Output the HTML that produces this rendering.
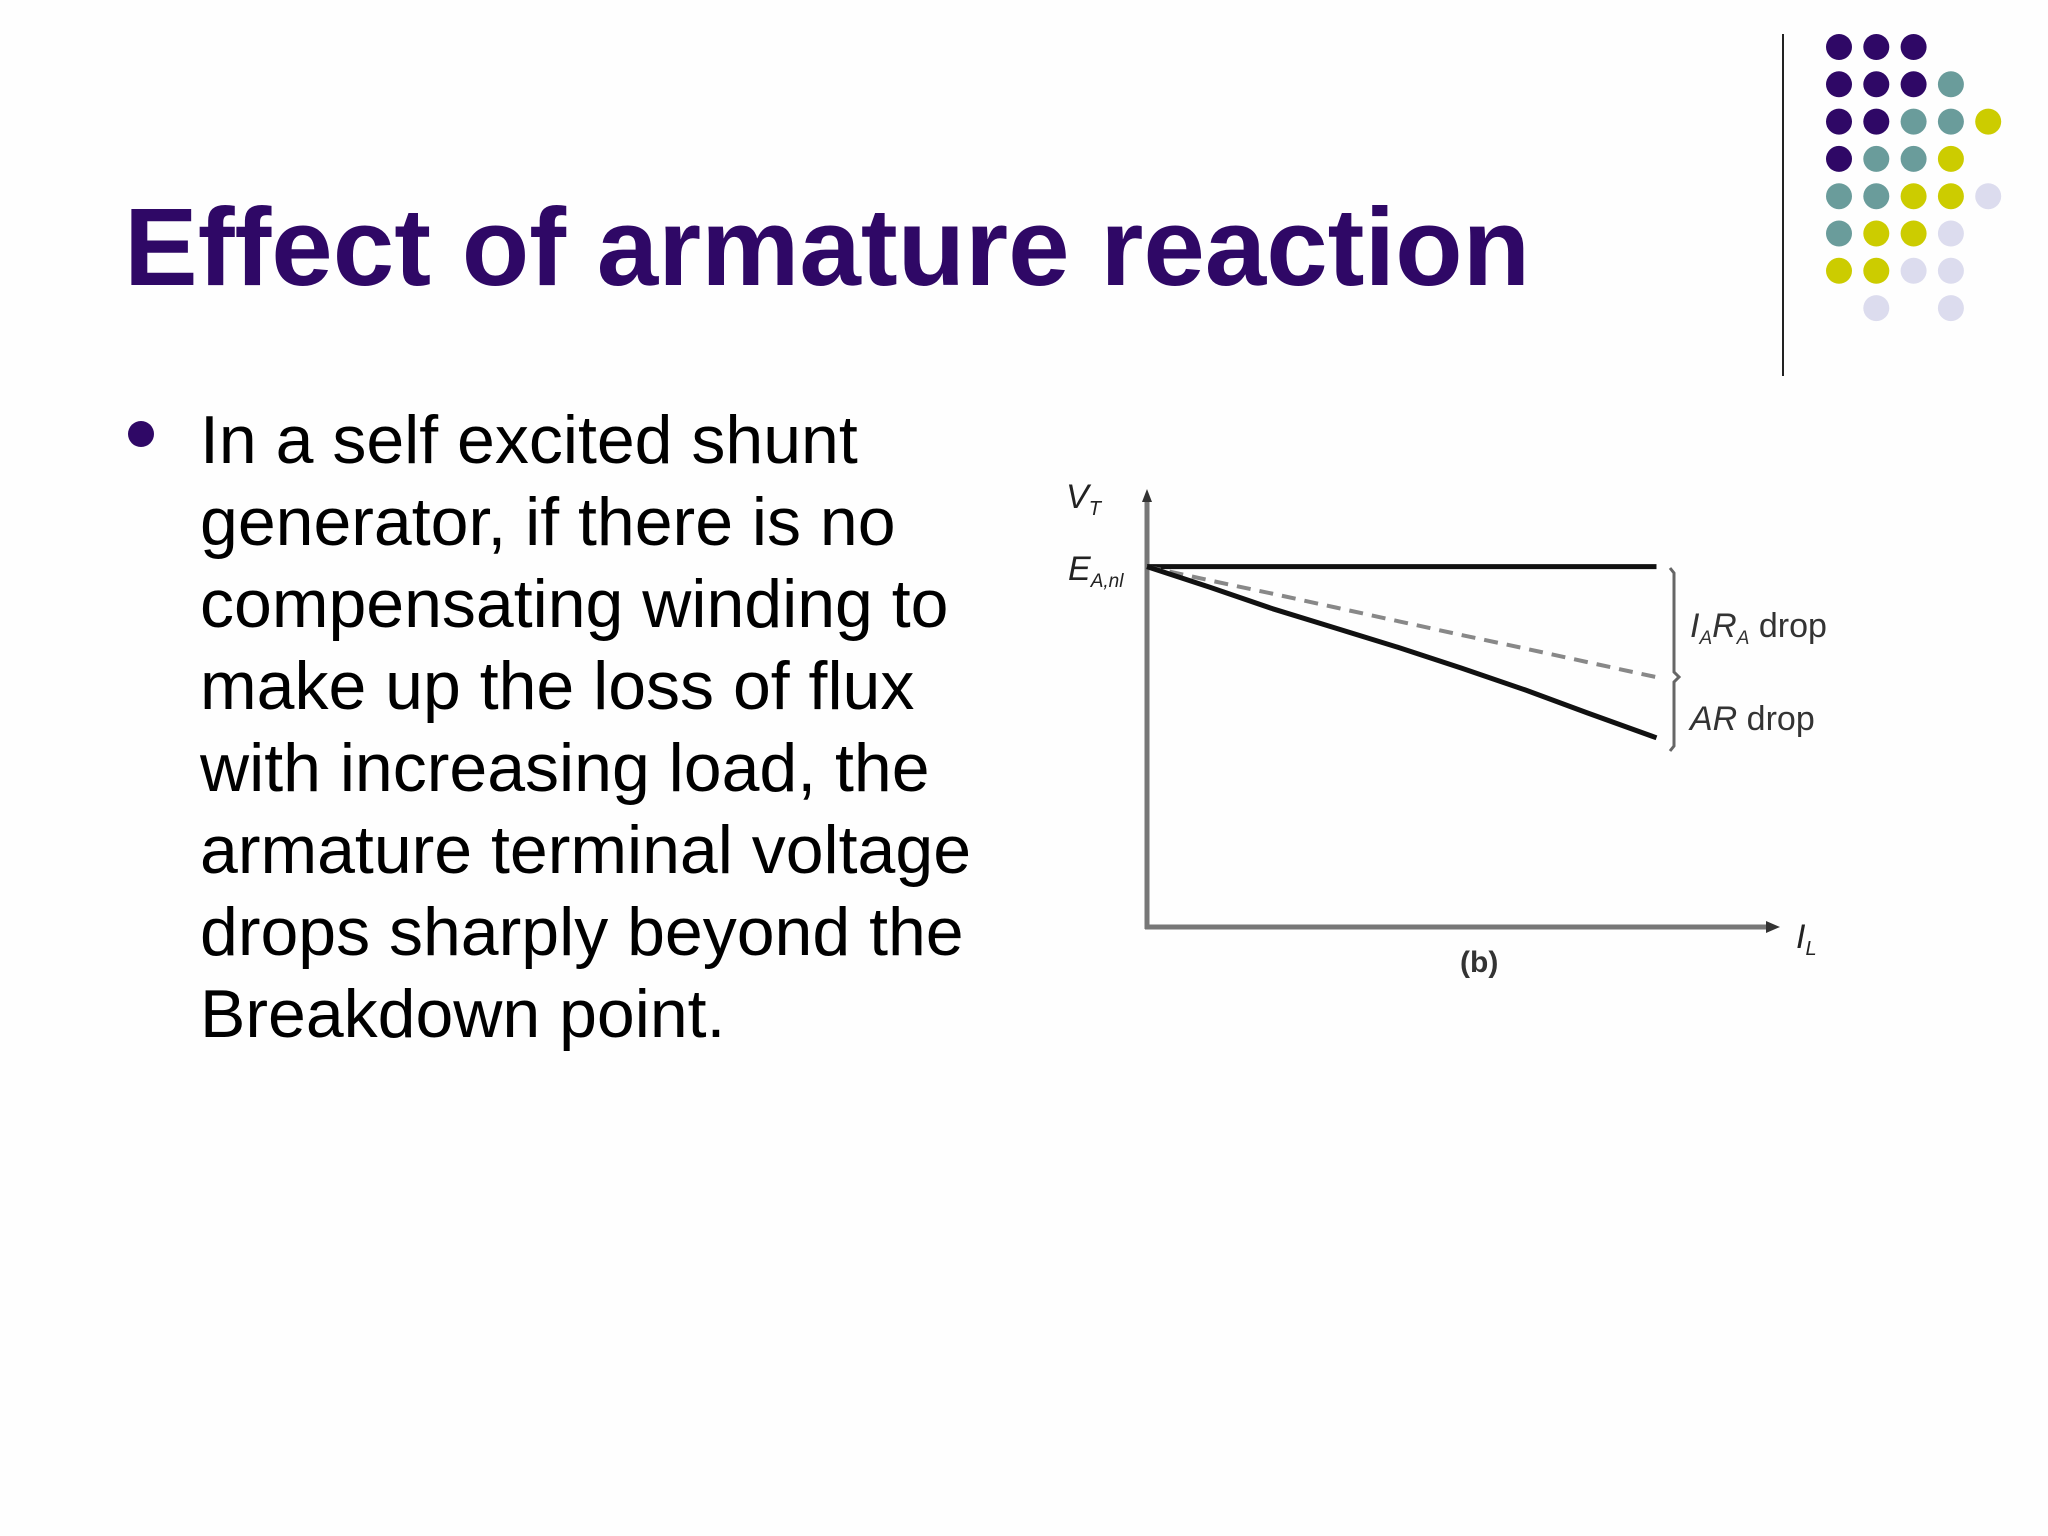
<!DOCTYPE html>
<html><head><meta charset="utf-8"><style>
html,body{margin:0;padding:0;background:#fefefe;}
svg{display:block;}
text{font-family:"Liberation Sans",Arial,sans-serif;}
</style></head><body>
<svg id="s" width="2048" height="1536" viewBox="0 0 2048 1536">
<rect x="0" y="0" width="2048" height="1536" fill="#fefefe"/>
<line x1="1783" y1="34" x2="1783" y2="376" stroke="#222" stroke-width="2"/>
<g id="dots"></g>
<text x="124" y="285" font-size="110.5" font-weight="bold" fill="#2f0866">Effect of armature reaction</text>
<circle cx="141" cy="434" r="13" fill="#2f0866"/>
<g font-size="68" fill="#000">
<text x="200" y="463">In a self excited shunt</text>
<text x="200" y="545">generator, if there is no</text>
<text x="200" y="627">compensating winding to</text>
<text x="200" y="709">make up the loss of flux</text>
<text x="200" y="791">with increasing load, the</text>
<text x="200" y="873">armature terminal voltage</text>
<text x="200" y="955">drops sharply beyond the</text>
<text x="200" y="1037">Breakdown point.</text>
</g>
<g id="chart">
<line x1="1147" y1="496" x2="1147" y2="929" stroke="#777" stroke-width="5"/>
<line x1="1145" y1="927" x2="1768" y2="927" stroke="#777" stroke-width="5"/>
<polygon points="1766,921 1780,927 1766,933" fill="#333"/>
<polygon points="1142,502 1147,489 1152,502" fill="#333"/>
<text x="1066" y="508" font-size="34" font-style="italic" font-family="Liberation Serif" fill="#222">V<tspan font-size="20" dy="7">T</tspan></text>
<text x="1068" y="580" font-size="34" font-style="italic" font-family="Liberation Serif" fill="#222">E<tspan font-size="19" dy="7">A,nl</tspan></text>
<text x="1796" y="948" font-size="34" font-style="italic" font-family="Liberation Serif" fill="#222">I<tspan font-size="20" dy="7">L</tspan></text>
<text x="1460" y="972" font-size="30" font-weight="bold" font-family="Liberation Serif" fill="#333">(b)</text>
<path d="M1670,568 L1674,573 L1674,672 L1679,677 L1674,682 L1674,746 L1670,751" fill="none" stroke="#666" stroke-width="3"/>
<text x="1690" y="637" font-size="34" font-style="italic" font-family="Liberation Serif" fill="#333">I<tspan font-size="19" dy="7">A</tspan><tspan dy="-7">R</tspan><tspan font-size="19" dy="7">A</tspan><tspan dy="-7" font-style="normal"> drop</tspan></text>
<text x="1690" y="730" font-size="34" font-style="italic" font-family="Liberation Serif" fill="#333">AR<tspan font-style="normal"> drop</tspan></text>
</g>
</svg>
<script>
// chart data
const loadCurrent = [0, 1, 2, 3, 4, 5, 6, 7, 8.1];
const noLoadVoltage = [8.38, 8.38, 8.38, 8.38, 8.38, 8.38, 8.38, 8.38, 8.38];
const iaraVoltage = [8.38, 8.06, 7.75, 7.43, 7.11, 6.79, 6.48, 6.16, 5.81];
const terminalVoltage = [8.38, 7.9, 7.4, 6.95, 6.5, 6.02, 5.52, 4.98, 4.40];
const dotColors = [
 ['#2f0866','#2f0866','#2f0866','',''],
 ['#2f0866','#2f0866','#2f0866','#6a9c9b',''],
 ['#2f0866','#2f0866','#6a9c9b','#6a9c9b','#cccc00'],
 ['#2f0866','#6a9c9b','#6a9c9b','#cccc00',''],
 ['#6a9c9b','#6a9c9b','#cccc00','#cccc00','#dcdcee'],
 ['#6a9c9b','#cccc00','#cccc00','#dcdcee',''],
 ['#cccc00','#cccc00','#dcdcee','#dcdcee',''],
 ['','#dcdcee','','#dcdcee','']
];
const NS='http://www.w3.org/2000/svg';
const xScale = v => 1147 + v * 62.9;
const yScale = v => 927 - v * 43;
const chart = document.getElementById('chart');
function addLine(vals, name, stroke, w, dash){
  const p = document.createElementNS(NS,'polyline');
  p.setAttribute('points', loadCurrent.map((x,i)=>xScale(x)+','+yScale(vals[i])).join(' '));
  p.setAttribute('fill','none');
  p.setAttribute('stroke',stroke);
  p.setAttribute('stroke-width',w);
  p.setAttribute('stroke-linejoin','round');
  if(dash) p.setAttribute('stroke-dasharray',dash);
  
  
  chart.appendChild(p);
}
addLine(noLoadVoltage,'no-load-voltage-line','#111',5,null);
addLine(iaraVoltage,'iara-drop-dashed-line','#888',4,'14 9');
addLine(terminalVoltage,'terminal-voltage-curve','#111',5,null);
const dots = document.getElementById('dots');
dotColors.forEach((row,r)=>row.forEach((c,col)=>{
  if(!c) return;
  const d = document.createElementNS(NS,'circle');
  d.setAttribute('cx', 1839 + col*37.3);
  d.setAttribute('cy', 47 + r*37.3);
  d.setAttribute('r', 13);
  d.setAttribute('fill', c);
  
  
  dots.appendChild(d);
}));
</script>
</body></html>
